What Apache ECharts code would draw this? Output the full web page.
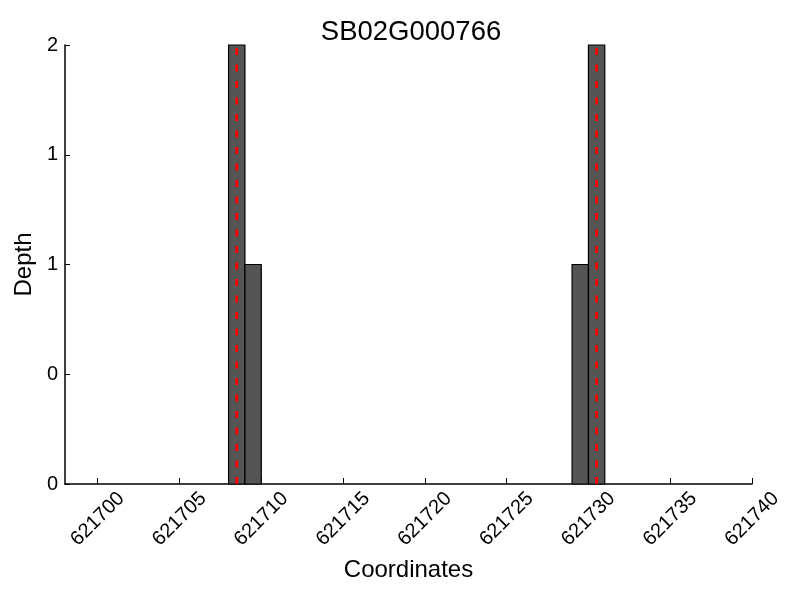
<!DOCTYPE html>
<html>
<head>
<meta charset="utf-8">
<script src="https://cdn.jsdelivr.net/npm/echarts@6/dist/echarts.min.js"></script>
<style>html,body{margin:0;padding:0;background:#fff}#c{width:800px;height:600px}</style>
</head>
<body>
<div id="c"></div>
<script>
const chartTitle = 'SB02G000766';
const binStarts = [621708, 621709, 621729, 621730];
const binEnds = [621709, 621710, 621730, 621731];
const depths = [2, 1, 1, 2];
const markerPositions = [621708.5, 621730.5];
const xTicks = [621700, 621705, 621710, 621715, 621720, 621725, 621730, 621735, 621740];
const yTicks = [0, 0.5, 1, 1.5, 2];
const yTickLabels = ['0', '0', '1', '1', '2'];

const font = 'Liberation Sans';
const chart = echarts.init(document.getElementById('c'));

const barData = binStarts.map((s, i) => [s, binEnds[i], depths[i]]);
const lineSeries = markerPositions.map(p => ({
  type: 'line',
  data: [[p, 0], [p, 2]],
  showSymbol: false,
  silent: true,
  z: 5,
  lineStyle: { color: '#ff0000', width: 2.8, type: [7, 9.5] },
  animation: false
}));

chart.setOption({
  animation: false,
  title: {
    text: chartTitle,
    left: 406, top: 13, textAlign: 'center',
    textStyle: { fontFamily: font, fontSize: 27.5, fontWeight: 'normal', color: '#000' }
  },
  grid: { left: 65, right: 48, top: 45, bottom: 116, containLabel: false, outerBoundsMode: 'none' },
  xAxis: {
    type: 'value', min: 621698, max: 621740,
    name: 'Coordinates', nameLocation: 'middle', nameGap: 74, nameMoveOverlap: false,
    nameTextStyle: { fontFamily: font, fontSize: 24, color: '#000' },
    axisLine: { show: true, lineStyle: { color: '#000', width: 1.5 } },
    axisTick: { show: true, inside: true, length: 6, customValues: xTicks, lineStyle: { color: '#000', width: 1 } },
    axisLabel: {
      customValues: xTicks, rotate: 45, align: 'center', verticalAlign: 'middle', margin: 35,
      fontFamily: font, fontSize: 20, color: '#000',
      formatter: v => String(v)
    },
    splitLine: { show: false }
  },
  yAxis: {
    type: 'value', min: 0, max: 2,
    name: 'Depth', nameLocation: 'middle', nameGap: 41, nameRotate: 90, nameMoveOverlap: false,
    nameTextStyle: { fontFamily: font, fontSize: 24, color: '#000', verticalAlign: 'middle' },
    axisLine: { show: true, lineStyle: { color: '#000', width: 1.5 } },
    axisTick: { show: true, inside: true, length: 5, customValues: yTicks, lineStyle: { color: '#000', width: 1 } },
    axisLabel: {
      customValues: yTicks, margin: 7,
      fontFamily: font, fontSize: 20, color: '#000',
      formatter: v => yTickLabels[yTicks.indexOf(v)] ?? ''
    },
    splitLine: { show: false }
  },
  series: [{
    type: 'custom',
    data: barData,
    encode: { x: [0, 1], y: 2 },
    z: 2,
    renderItem: (params, api) => {
      const p0 = api.coord([api.value(0), 0]);
      const p1 = api.coord([api.value(1), api.value(2)]);
      return {
        type: 'rect',
        shape: { x: p0[0], y: p1[1], width: p1[0] - p0[0], height: p0[1] - p1[1] },
        style: { fill: '#555555', stroke: '#000', lineWidth: 1.2 }
      };
    }
  }].concat(lineSeries)
});
</script>
</body>
</html>
